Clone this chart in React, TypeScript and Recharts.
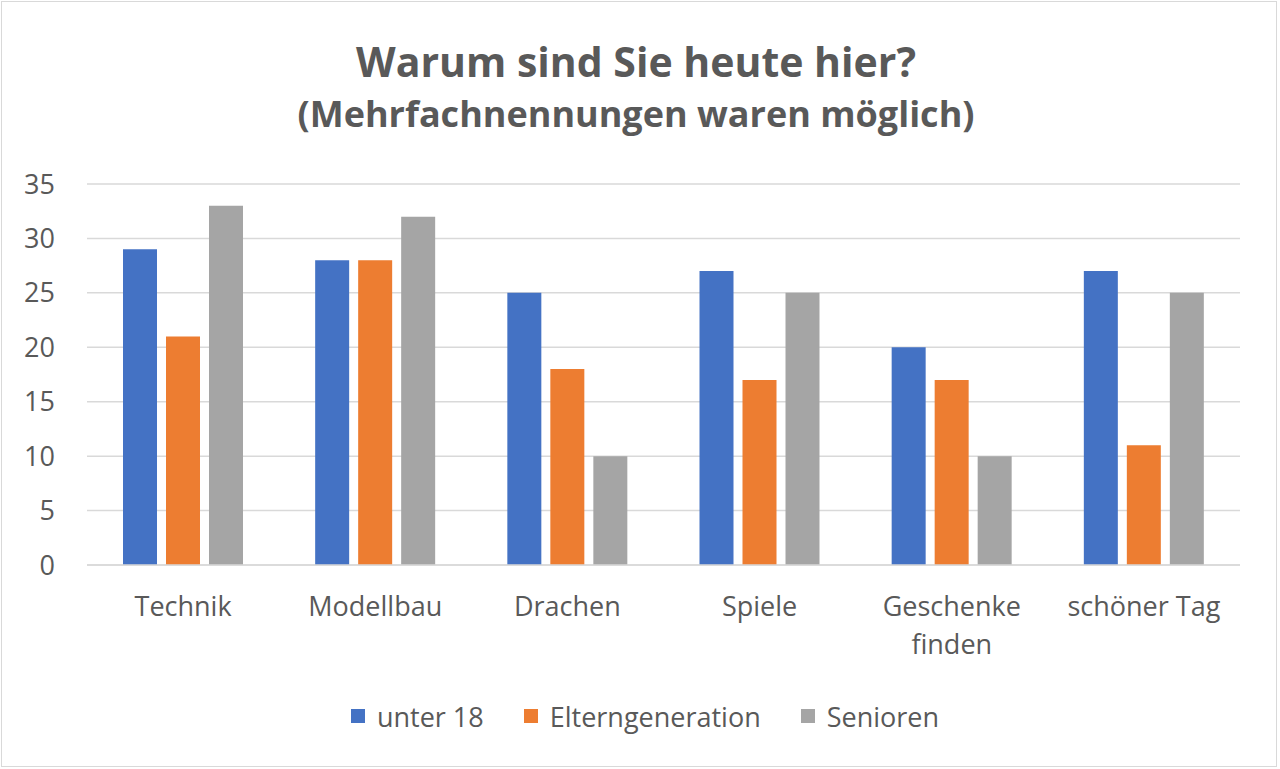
import React from "react";
import { BarChart, Bar, XAxis, YAxis, CartesianGrid, Legend } from "recharts";

const categories = ["Technik", "Modellbau", "Drachen", "Spiele", "Geschenke finden", "schöner Tag"];
const tickLines: string[][] = [["Technik"], ["Modellbau"], ["Drachen"], ["Spiele"], ["Geschenke", "finden"], ["schöner Tag"]];
const unter18 = [29, 28, 25, 27, 20, 27];
const elterngeneration = [21, 28, 18, 17, 17, 11];
const senioren = [33, 32, 10, 25, 10, 25];
const yTicks = [0, 5, 10, 15, 20, 25, 30, 35];

const seriesNames = ["unter 18", "Elterngeneration", "Senioren"];
const colors = ["#4472C4", "#ED7D31", "#A5A5A5"];

const data = categories.map((c, i) => ({
  name: c,
  u18: unter18[i],
  eltern: elterngeneration[i],
  sen: senioren[i],
}));

const FONT = "'Open Sans', 'Noto Sans', sans-serif";
const TEXT = "#595959";

const XTick = (props: any) => {
  const { x, y, index } = props;
  const lines = tickLines[index] || [String(props.payload.value)];
  return (
    <g transform={`translate(${x},${y})`}>
      <text textAnchor="middle" fill={TEXT} fontSize={27} fontFamily={FONT}>
        {lines.map((l, i) => (
          <tspan key={i} x={0} y={43 + i * 38}>
            {l}
          </tspan>
        ))}
      </text>
    </g>
  );
};

const LegendContent = () => (
  <div
    style={{
      display: "flex",
      justifyContent: "center",
      alignItems: "center",
      height: 106,
      paddingLeft: 50,
      fontFamily: FONT,
      fontSize: 27,
      color: TEXT,
    }}
  >
    {seriesNames.map((n, i) => (
      <div key={n} style={{ display: "flex", alignItems: "center", marginRight: i < 2 ? 40 : 0 }}>
        <div style={{ width: 14, height: 14, background: colors[i], marginRight: 12 }} />
        <span>{n}</span>
      </div>
    ))}
  </div>
);

export default function App() {
  return (
    <div style={{ position: "fixed", left: 0, top: 0, width: 1280, height: 769, background: "#fff" }}>
      <div
        style={{
          position: "absolute",
          left: 1,
          top: 1,
          width: 1274,
          height: 764,
          border: "1.5px solid #d9d9d9",
        }}
      />
      <div
        style={{
          position: "absolute",
          left: 0,
          width: 1272,
          top: 41,
          textAlign: "center",
          fontFamily: FONT,
          fontWeight: 700,
          color: TEXT,
          lineHeight: 1,
        }}
      >
        <div style={{ fontSize: 41 }}>Warum sind Sie heute hier?</div>
        <div style={{ fontSize: 36, marginTop: 14 }}>(Mehrfachnennungen waren möglich)</div>
      </div>
      <div style={{ position: "absolute", left: 0, top: 0 }}>
        <BarChart
          width={1280}
          height={769}
          data={data}
          margin={{ top: 184, right: 40, bottom: 0, left: 0 }}
          barGap={9}
          barSize={34}
        >
          <CartesianGrid vertical={false} stroke="#d9d9d9" strokeWidth={1.5} />
          <XAxis
            dataKey="name"
            height={98}
            axisLine={{ stroke: "#d9d9d9", strokeWidth: 1.5 }}
            tickLine={false}
            tick={<XTick />}
            interval={0}
          />
          <YAxis
            width={87}
            domain={[0, 35]}
            ticks={yTicks}
            axisLine={false}
            tickLine={false}
            tickSize={0}
            tickMargin={32}
            tick={{ fill: TEXT, fontSize: 27, fontFamily: FONT }}
          />
          <Legend verticalAlign="bottom" height={106} content={<LegendContent />} />
          <Bar dataKey="u18" name={seriesNames[0]} fill={colors[0]} isAnimationActive={false} />
          <Bar dataKey="eltern" name={seriesNames[1]} fill={colors[1]} isAnimationActive={false} />
          <Bar dataKey="sen" name={seriesNames[2]} fill={colors[2]} isAnimationActive={false} />
        </BarChart>
      </div>
    </div>
  );
}
